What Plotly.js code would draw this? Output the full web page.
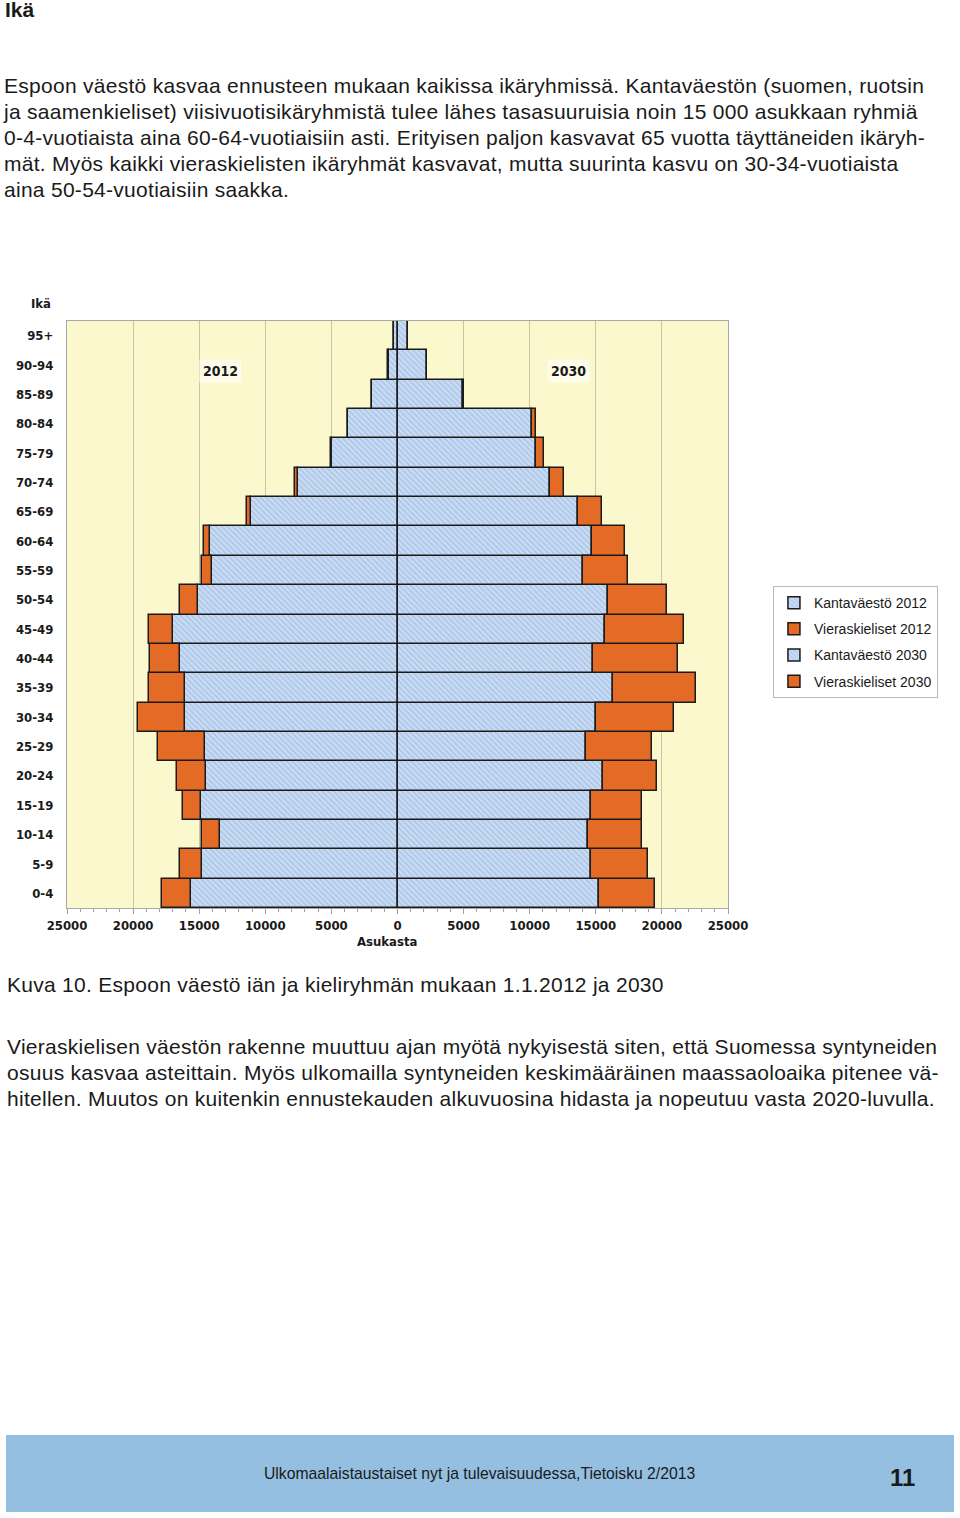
<!DOCTYPE html>
<html>
<head>
<meta charset="utf-8">
<script src="https://cdn.plot.ly/plotly-3.0.1.min.js"></script>
<style>
  html, body { margin:0; padding:0; background:#fff; }
  body { width:960px; height:1518px; position:relative; overflow:hidden; font-family:"Liberation Sans", Arial, Helvetica, sans-serif; color:#1a1a1a; }
  .abs { position:absolute; white-space:nowrap; }
  .para { font-size:21px; line-height:26px; letter-spacing:0.28px; }
  #chart { position:absolute; left:0; top:280px; width:960px; height:700px; }
  #footer { position:absolute; left:6px; top:1435px; width:948px; height:77px; background:#94bfe1; }
</style>
</head>
<body>
<div class="abs" style="left:5px; top:-3px; font-size:21px; font-weight:bold; line-height:26px;">Ikä</div>

<div class="abs para" style="left:4px; top:73px;">
Espoon väestö kasvaa ennusteen mukaan kaikissa ikäryhmissä. Kantaväestön (suomen, ruotsin<br>
ja saamenkieliset) viisivuotisikäryhmistä tulee lähes tasasuuruisia noin 15 000 asukkaan ryhmiä<br>
0-4-vuotiaista aina 60-64-vuotiaisiin asti. Erityisen paljon kasvavat 65 vuotta täyttäneiden ikäryh-<br>
mät. Myös kaikki vieraskielisten ikäryhmät kasvavat, mutta suurinta kasvu on 30-34-vuotiaista<br>
aina 50-54-vuotiaisiin saakka.
</div>

<div id="chart"></div>

<div class="abs para" style="left:7px; top:972px;">Kuva 10. Espoon väestö iän ja kieliryhmän mukaan 1.1.2012 ja 2030</div>

<div class="abs para" style="left:7px; top:1034px;">
Vieraskielisen väestön rakenne muuttuu ajan myötä nykyisestä siten, että Suomessa syntyneiden<br>
osuus kasvaa asteittain. Myös ulkomailla syntyneiden keskimääräinen maassaoloaika pitenee vä-<br>
hitellen. Muutos on kuitenkin ennustekauden alkuvuosina hidasta ja nopeutuu vasta 2020-luvulla.
</div>

<div id="footer">
  <div class="abs" style="left:258px; top:29px; font-size:17px; line-height:20px; transform:scaleX(0.925); transform-origin:left center;">Ulkomaalaistaustaiset nyt ja tulevaisuudessa,Tietoisku 2/2013</div>
  <div class="abs" style="left:884px; top:29px; font-size:24px; font-weight:bold; line-height:28px;">11</div>
</div>

<script>
// Age groups (bottom to top)
const ages = ['0-4','5-9','10-14','15-19','20-24','25-29','30-34','35-39','40-44','45-49',
              '50-54','55-59','60-64','65-69','70-74','75-79','80-84','85-89','90-94','95+'];

// Kantaväestö 2012 (native population), persons
const kanta2012 = [15590, 14760, 13440, 14880, 14480, 14580, 16090, 16040, 16420, 16970,
                   15100, 14000, 14180, 11100, 7550, 4985, 3730, 1920, 680, 250];
// Vieraskieliset 2012 (foreign-language speakers), persons
const vier2012  = [2210, 1660, 1360, 1340, 2190, 3500, 3550, 2790, 2320, 1790,
                   1360, 800, 450, 250, 180, 30, 20, 10, 10, 5];
// Kantaväestö 2030
const kanta2030 = [15270, 14670, 14390, 14620, 15550, 14260, 15020, 16330, 14770, 15720,
                   15900, 14030, 14710, 13690, 11540, 10460, 10180, 4970, 2200, 820];
// Vieraskieliset 2030
const vier2030  = [4230, 4280, 4080, 3870, 4080, 4980, 5860, 6270, 6470, 5920,
                   4480, 3400, 2490, 1780, 1060, 600, 260, 40, 10, 5];

const tickVals = [-25000,-20000,-15000,-10000,-5000,0,5000,10000,15000,20000,25000];
const tickText = ['25000','20000','15000','10000','5000','0','5000','10000','15000','20000','25000'];

const blueFill = {
  color:'#c8dbf3',
  line:{color:'#1b1b1b', width:1.5},
  pattern:{shape:'\\', fgcolor:'#9dbbe3', bgcolor:'#c8dbf3', size:4, solidity:0.25}
};
const orangeFill = { color:'#e36b26', line:{color:'#1b1b1b', width:1.5} };

const neg = a => a.map(v => -v);

const traces = [
  {type:'bar', orientation:'h', name:'Kantaväestö 2012', legendgroup:'a',
   y:ages, x:neg(kanta2012), customdata:kanta2012, hovertemplate:'%{y}: %{customdata}<extra>Kantaväestö 2012</extra>',
   marker:blueFill},
  {type:'bar', orientation:'h', name:'Vieraskieliset 2012', legendgroup:'b',
   y:ages, x:neg(vier2012), customdata:vier2012, hovertemplate:'%{y}: %{customdata}<extra>Vieraskieliset 2012</extra>',
   marker:orangeFill},
  {type:'bar', orientation:'h', name:'Kantaväestö 2030', legendgroup:'c',
   y:ages, x:kanta2030, hovertemplate:'%{y}: %{x}<extra>Kantaväestö 2030</extra>',
   marker:blueFill},
  {type:'bar', orientation:'h', name:'Vieraskieliset 2030', legendgroup:'d',
   y:ages, x:vier2030, hovertemplate:'%{y}: %{x}<extra>Vieraskieliset 2030</extra>',
   marker:orangeFill}
];

const tickFont = {family:'"Liberation Sans Narrow", "DejaVu Sans Condensed", Arial, sans-serif', size:13, color:'#1a1a1a', weight:'bold'};

const layout = {
  width:960, height:700,
  margin:{l:67, r:232, t:41, b:72},
  paper_bgcolor:'rgba(0,0,0,0)',
  plot_bgcolor:'#fcf8cd',
  barmode:'relative',
  bargap:0,
  showlegend:true,
  legend:{
    x:1.068, xanchor:'left', y:0.5485, yanchor:'top',
    bgcolor:'#ffffff', bordercolor:'#b8b8b8', borderwidth:1,
    font:{family:'"Liberation Sans", Arial, sans-serif', size:14, color:'#1a1a1a'},
    traceorder:'grouped', tracegroupgap:5
  },
  xaxis:{
    range:[-25000,25000], tickvals:tickVals, ticktext:tickText,
    tickfont:tickFont, showgrid:true, gridcolor:'#c9c6a1', gridwidth:1.2,
    zeroline:false, showline:true, linecolor:'#a8a8a8', linewidth:1.2, mirror:true,
    ticks:'outside', ticklen:5, tickcolor:'#a0a0a0',
    minor:{dtick:1000, tick0:0, ticks:'outside', ticklen:3, tickcolor:'#a0a0a0', showgrid:false},
    fixedrange:true
  },
  yaxis:{
    type:'category', categoryorder:'array', categoryarray:ages,
    tickfont:tickFont, showgrid:false, ticks:'', ticklabelstandoff:10,
    showline:true, linecolor:'#a8a8a8', linewidth:1.2, mirror:true,
    fixedrange:true
  },
  annotations:[
    {xref:'paper', yref:'paper', x:-0.04, y:1.030, xanchor:'center', yanchor:'middle',
     text:'<b>Ikä</b>', showarrow:false, font:tickFont},
    {xref:'x', yref:'paper', x:-800, y:-0.0565, xanchor:'center', yanchor:'middle',
     text:'<b>Asukasta</b>', showarrow:false, font:tickFont},
    {xref:'x', yref:'paper', x:-13425, y:0.9144, xanchor:'center', yanchor:'middle',
     text:'<b>2012</b>', showarrow:false, font:Object.assign({}, tickFont, {size:14}),
     bgcolor:'#fefce9', borderpad:3},
    {xref:'x', yref:'paper', x:12940, y:0.9144, xanchor:'center', yanchor:'middle',
     text:'<b>2030</b>', showarrow:false, font:Object.assign({}, tickFont, {size:14}),
     bgcolor:'#fefce9', borderpad:3}
  ]
};

Plotly.newPlot('chart', traces, layout, {displayModeBar:false});
</script>
</body>
</html>
